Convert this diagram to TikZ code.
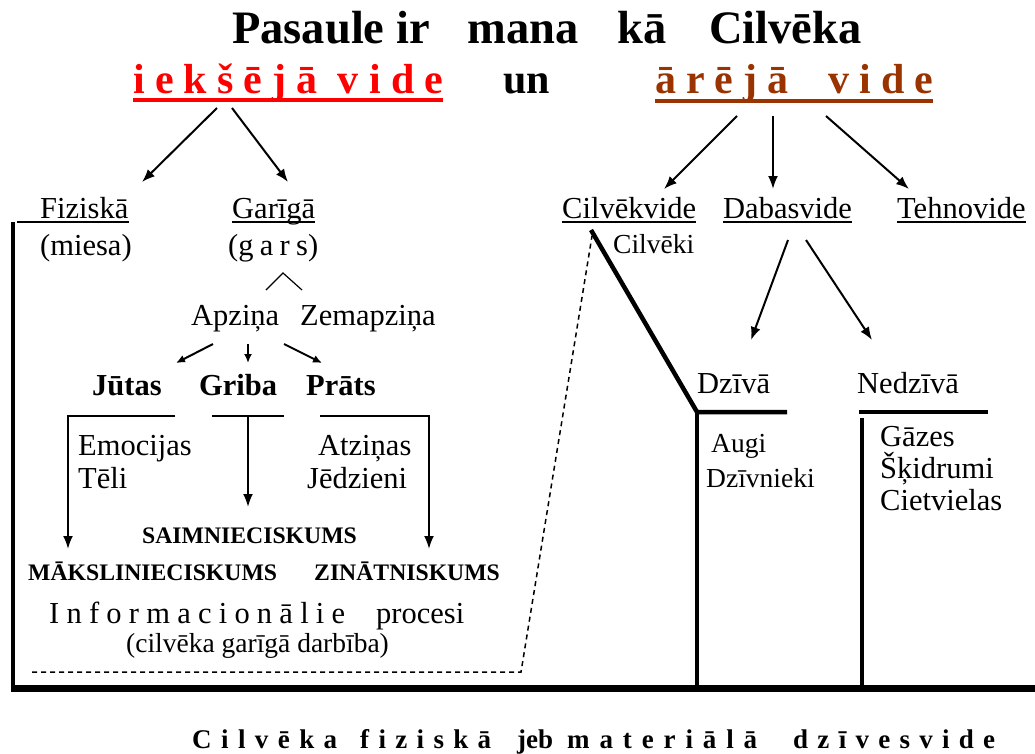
\documentclass[tikz,border=0pt]{standalone}
\usepackage{fontspec}
\setmainfont{Liberation Serif}
\usetikzlibrary{arrows.meta}
\definecolor{brickred}{HTML}{993300}
% spread the letters of a word over a given width
\newcommand{\spread}[2]{\makebox[#1][s]{#2}}

\begin{document}
\begin{tikzpicture}[x=1pt,y=-1pt,
        lbl/.style={anchor=base west, inner sep=0pt, font=\fontsize{30.5}{33}\selectfont},
        sml/.style={lbl, font=\fontsize{27.5}{30}\selectfont},
        bld/.style={lbl, font=\fontsize{30.5}{33}\selectfont\bfseries},
        caps/.style={lbl, font=\fontsize{23.7}{26}\selectfont\bfseries},
        head/.style={lbl, font=\fontsize{42}{46}\selectfont\bfseries},
        foot/.style={lbl, font=\fontsize{27}{30}\selectfont\bfseries},
        arr/.style={-{Latex[length=13pt,width=10pt]}, line width=2pt},
        sarr/.style={-{Latex[length=9pt,width=8pt]}, line width=2pt},
        heavy/.style={line width=4.5pt},
        uline/.style={line width=1.2pt}]
        \useasboundingbox (0,0) rectangle (1035,753);

        % Title and the two environments
        \node[lbl, font=\fontsize{46.5}{50}\selectfont\bfseries] (title) at (232,43)
            {Pasaule ir\hspace{38pt}mana\hspace{39pt}kā\hspace{42pt}Cilvēka};
        \node[head, text=red] (inner) at (133,93) {\spread{310pt}{i e k š ē j ā\hspace{10pt} v i d e}};
        \node[head] (un) at (503,93) {un};
        \node[head, text=brickred] (outer) at (655,93) {\spread{278pt}{ā r ē j ā\hspace{30pt} v i d e}};
        \draw[red, line width=4pt] ([shift={(0,7)}]inner.base west) -- ([shift={(0,7)}]inner.base east);
        \draw[brickred, line width=4.5pt] ([shift={(0,8)}]outer.base west) -- ([shift={(0,8)}]outer.base east);

        % Inner side
        \node[lbl] (fiz) at (40,218) {Fiziskā};
        \node[lbl] (gar) at (232,218) {Garīgā};
        \node[lbl] (miesa) at (40,255) {(miesa)};
        \node[lbl] (gars) at (228,255) {\spread{90pt}{(g a r s)}};
        \node[lbl] (apz) at (191,325) {Apziņa};
        \node[lbl] (zem) at (300,325) {Zemapziņa};
        \node[bld] (jut) at (92,395) {Jūtas};
        \node[bld] (gri) at (199,395) {Griba};
        \node[bld] (pra) at (306,395) {Prāts};
        \node[lbl] (emo) at (78,455) {Emocijas};
        \node[lbl] (teli) at (78,488) {Tēli};
        \node[lbl] (atz) at (318,455) {Atziņas};
        \node[lbl] (jed) at (307,488) {Jēdzieni};
        \node[caps] (saim) at (142,543) {SAIMNIECISKUMS};
        \node[caps] (maks) at (28,580) {MĀKSLINIECISKUMS};
        \node[caps] (zin) at (314,580) {ZINĀTNISKUMS};
        \node[lbl] (info) at (49,623) {\spread{296pt}{I n f o r m a c i o n ā l i e}};
        \node[lbl] (proc) at (376,623) {procesi};
        \node[sml] (darb) at (126,652) {(cilvēka garīgā darbība)};

        \draw[uline] ([shift={(-23,4)}]fiz.base west) -- ([shift={(0,4)}]fiz.base east);
        \draw[uline] ([shift={(0,4)}]gar.base west) -- ([shift={(0,4)}]gar.base east);
        \draw[arr] ([shift={(84,15)}]inner.base west) -- ([shift={(102,-36)}]fiz.base west);
        \draw[arr] ([shift={(99,15)}]inner.base west) -- ([shift={(56,-36)}]gar.base west);
        \draw[uline] ([shift={(38,35)}]gars.base west) -- ([shift={(55,18)}]gars.base west)
            -- ([shift={(74,35)}]gars.base west);
        \draw[sarr] ([shift={(22,19)}]apz.base west) -- ([shift={(84,-32)}]jut.base west);
        \draw[sarr] ([shift={(57,19)}]apz.base west) -- ([shift={(49,-32)}]gri.base west);
        \draw[sarr] ([shift={(93,19)}]apz.base west) -- ([shift={(16,-32)}]pra.base west);
        % brackets under the three
        \draw[arr] ([shift={(83,21)}]jut.base west) -- ([shift={(-24,21)}]jut.base west)
            -- ([shift={(40,-31)}]maks.base west);
        \draw[line width=2pt] ([shift={(13,21)}]gri.base west) -- ([shift={(85,21)}]gri.base west);
        \draw[arr] ([shift={(49,21)}]gri.base west) -- ([shift={(106,-36)}]saim.base west);
        \draw[arr] ([shift={(14,21)}]pra.base west) -- ([shift={(123,21)}]pra.base west)
            -- ([shift={(115,-31)}]zin.base west);

        % Outer side
        \node[lbl] (cvk) at (562,218) {Cilvēkvide};
        \node[lbl] (dab) at (723,218) {Dabasvide};
        \node[lbl] (teh) at (897,218) {Tehnovide};
        \node[sml] (cvki) at (613,253) {Cilvēki};
        \node[lbl] (dzi) at (697,393) {Dzīvā};
        \node[lbl] (ned) at (857,393) {Nedzīvā};
        \node[sml] (augi) at (711,452) {Augi};
        \node[sml] (dzn) at (706,487) {Dzīvnieki};
        \node[lbl] (gaz) at (880,446) {Gāzes};
        \node[lbl] (skid) at (880,478) {Šķidrumi};
        \node[lbl] (ciet) at (880,510) {Cietvielas};

        \foreach \n in {cvk,dab,teh}
            \draw[uline] ([shift={(0,4)}]\n.base west) -- ([shift={(0,4)}]\n.base east);
        \draw[arr] ([shift={(82,23)}]outer.base west) -- ([shift={(102,-29)}]cvk.base west);
        \draw[arr] ([shift={(118,23)}]outer.base west) -- ([shift={(50,-29)}]dab.base west);
        \draw[arr] ([shift={(171,23)}]outer.base west) -- ([shift={(12,-29)}]teh.base west);
        \draw[arr] ([shift={(65,22)}]dab.base west) -- ([shift={(54,-53)}]dzi.base west);
        \draw[arr] ([shift={(83,22)}]dab.base west) -- ([shift={(15,-53)}]ned.base west);

        % Frame of the physical environment
        \coordinate (bl) at (11,688);
        \coordinate (br) at (1035,688);
        \coordinate (dl) at (32,672);
        \coordinate (dk) at (521,672);
        \draw[line width=3.5pt] ([shift={(-27,4)}]fiz.base west) -- ([shift={(-27,4)}]fiz.base west |- bl);
        \draw[line width=7pt] (bl) -- (br);
        \draw[heavy] ([shift={(29,12)}]cvk.base west) -- ([shift={(0,19)}]dzi.base west)
            -- ([shift={(90,19)}]dzi.base west);
        \draw[heavy] ([shift={(0,19)}]dzi.base west) -- (dzi.base west |- bl);
        \draw[heavy] ([shift={(2,19)}]ned.base west) -- ([shift={(131,19)}]ned.base west);
        \draw[heavy] ([shift={(5,25)}]ned.base west) -- ([xshift=5pt]ned.base west |- bl);
        \draw[line width=1.5pt, dash pattern=on 5pt off 4pt] (dl) -- (dk)
            -- ([shift={(30,18)}]cvk.base west);

        % Caption
        \node[foot] (w1) at (192,748) {\spread{145pt}{C i l v ē k a}};
        \node[foot] (w2) at (360,748) {\spread{131pt}{f i z i s k ā}};
        \node[foot] (w3) at (517,748) {jeb};
        \node[foot] (w4) at (567,748) {\spread{190pt}{m a t e r i ā l ā}};
        \node[foot] (w5) at (793,748) {\spread{202pt}{d z ī v e s v i d e}};
    \end{tikzpicture}
\end{document}
